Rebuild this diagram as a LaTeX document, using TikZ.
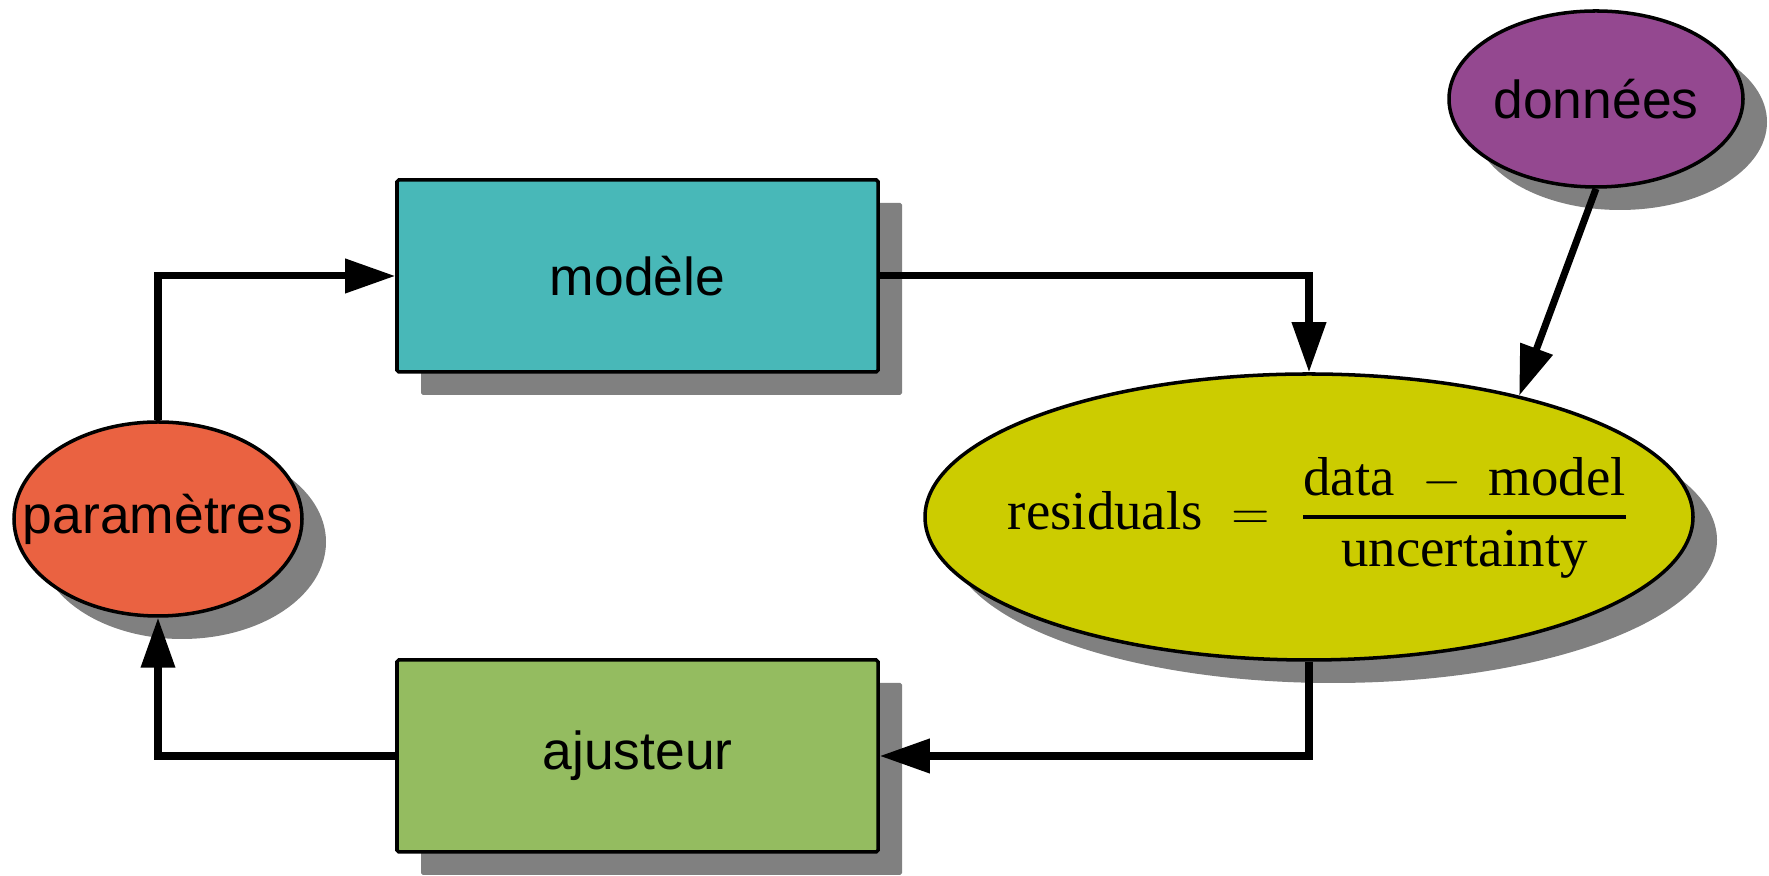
\documentclass[tikz,border=0pt]{standalone}
\usepackage{amsmath}
\usepackage{fontspec}
\setmainfont{Liberation Serif}
\setsansfont{Liberation Sans}
\usepackage{tikz}
\usetikzlibrary{shapes.geometric, arrows.meta, shadows}
\definecolor{FitTeal}{RGB}{72,184,184}
\definecolor{FitGreen}{RGB}{148,188,96}
\definecolor{FitOrange}{RGB}{234,98,65}
\definecolor{FitPurple}{RGB}{148,72,144}
\definecolor{FitYellow}{RGB}{204,204,0}
\definecolor{FitShadow}{RGB}{128,128,128}

\begin{document}
\begin{tikzpicture}[
          shade/.style={drop shadow={shadow xshift=2.4mm, shadow yshift=-2.3mm,
                        fill=FitShadow, opacity=1}},
          box/.style={rectangle, draw, line width=1pt, rounded corners=0.5pt,
                      minimum width=4.81cm, minimum height=1.92cm, shade,
                      font=\sffamily\fontsize{15.2}{18}\selectfont},
          blob/.style={ellipse, draw, line width=1pt, inner sep=0pt, shade},
          txt/.style={font=\sffamily\fontsize{15.2}{18}\selectfont},
          arr/.style={-{Triangle[length=5mm, width=3.3mm]}, line width=2pt}
        ]
        \useasboundingbox (0,0) rectangle (17.69,-8.76);

        % Model and fitter boxes
        \node[box, fill=FitTeal] (model) at (6.375, -2.76) {modèle};
        \node[box, fill=FitGreen] (fitter) at (6.375, -7.56) {ajusteur};

        % Parameters and data
        \node[blob, fill=FitOrange, minimum width=2.88cm,
              minimum height=1.94cm] (params) at (1.58, -5.19) {};
        \node[txt] at (params) {paramètres};
        \node[blob, fill=FitPurple, minimum width=2.94cm,
              minimum height=1.76cm] (data) at (15.96, -0.99) {};
        \node[txt] at (data) {données};

        % Residuals
        \node[blob, fill=FitYellow, minimum width=7.68cm,
              minimum height=2.86cm] (resid) at (13.09, -5.17) {};
        \node[font=\fontsize{15.6}{19}\selectfont] at (13.19, -5.18)
              {residuals\; $=$\; $\genfrac{}{}{1.1pt}{0}{\text{data\ \ $-$\ \ model}}{\text{uncertainty}}$};

        % Loop
        \draw[arr] (params.north) |- (model.west);
        \draw[arr] (model.east) -| (resid.north);
        \draw[arr] (data.south) -- (resid.30);
        \draw[arr] (resid.south) |- (fitter.east);
        \draw[arr] (fitter.west) -| (params.south);
      \end{tikzpicture}
\end{document}
